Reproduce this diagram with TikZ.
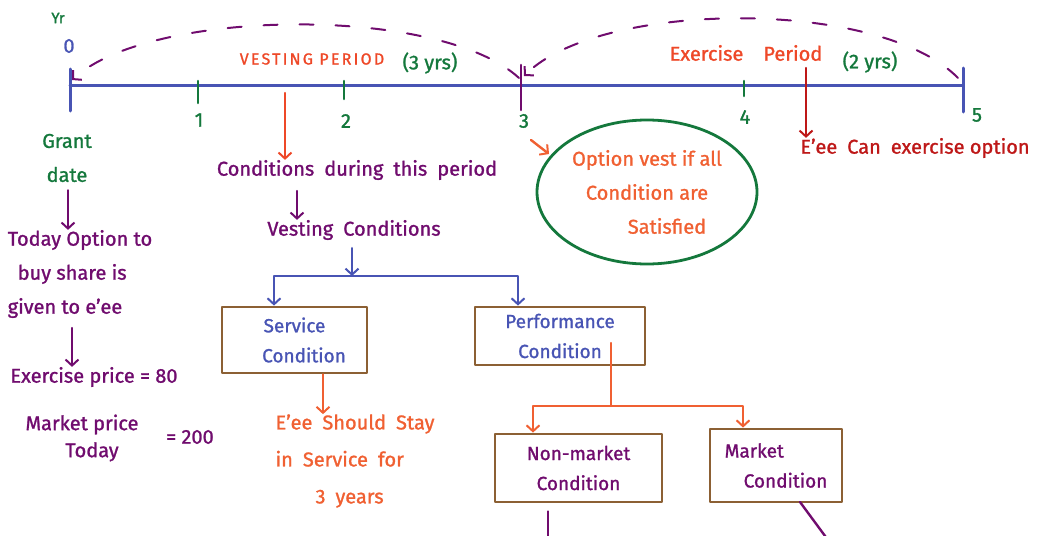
\documentclass[tikz,border=0pt]{standalone}
\usepackage{fontspec}
\setmainfont{Fira Sans}[FakeBold=1.2]
\usetikzlibrary{arrows.meta,shapes.geometric}
\definecolor{axisblue}{RGB}{72,84,180}
\definecolor{tickgreen}{RGB}{20,120,60}
\definecolor{inkpurple}{RGB}{112,12,110}
\definecolor{inkred}{RGB}{238,72,40}
\definecolor{inkorange}{RGB}{240,96,50}
\definecolor{darkred}{RGB}{190,24,24}
\definecolor{boxbrown}{RGB}{140,96,52}
\begin{document}
\begin{tikzpicture}[x=1pt,y=-1pt,line cap=round,line join=round,
  hand/.style={font=\fontsize{20}{34}\selectfont,inner sep=0pt,align=center},
  small/.style={font=\fontsize{15}{18}\selectfont,inner sep=0pt},
  cbox/.style={draw=boxbrown,line width=2.8pt,inner sep=0pt,align=center,
    font=\fontsize{19}{30}\selectfont},
  barb/.style={-{Straight Barb[length=6pt,width=13pt,line width=2pt]}},
  ink/.style={line width=2.4pt},
  arc/.style={draw=inkpurple,line width=2pt,dash pattern=on 14pt off 22pt}]
\useasboundingbox (0,0) rectangle (1051,535);

% ---- time line -------------------------------------------------------
\coordinate (t0) at (70,85);
\coordinate (t5) at (963,85);
\draw[axisblue,line width=3pt] (t0) -- (t5);
\draw[axisblue,line width=3pt] (70,69) -- (70,111);
\draw[axisblue,line width=3pt] (963,68) -- (963,112);
\draw[tickgreen,line width=2.6pt] (198,81) -- (198,103);
\draw[tickgreen,line width=2.6pt] (344,81) -- (344,99);
\draw[tickgreen,line width=2.6pt] (744,81) -- (744,96);
\draw[inkpurple,line width=2.6pt] (521,65) -- (521,110);

\node[small,text=tickgreen] (yr) at (58,18) {Yr};
\node[hand,text=axisblue] (n0) at (69,46) {0};
\node[hand,text=tickgreen] (n1) at (199,120) {1};
\node[hand,text=tickgreen] (n2) at (346,121) {2};
\node[hand,text=tickgreen] (n3) at (524,121) {3};
\node[hand,text=tickgreen] (n4) at (745,117) {4};
\node[hand,text=tickgreen] (n5) at (977,115) {5};

% ---- period spans ----------------------------------------------------
\draw[arc,barb] (519,78) .. controls (440,5) and (150,8) .. (72,80);
\draw[arc,barb] (958,78) .. controls (880,-2) and (600,0) .. (524,76);

\node[small,text=inkred,font=\fontsize{16}{18}\selectfont\addfontfeature{LetterSpace=14}]
  (vest) at (312,59) {VESTING PERIOD};
\node[hand,text=tickgreen] (vyrs) at (430,63) {(3 yrs)};
\node[hand,text=inkred] (expd) at (746,53) {Exercise\quad Period};
\node[hand,text=tickgreen] (eyrs) at (870,62) {(2 yrs)};

% ---- left column -----------------------------------------------------
\node[hand,text=tickgreen] (grant) at (67,158) {Grant\\date};
\node[hand,text=inkpurple,align=left] (today) at (80,274)
  {Today Option to\\\enspace buy share is\\given to e'ee};
\node[hand,text=inkpurple] (expr) at (94,377) {Exercise price = 80};
\node[hand,text=inkpurple,font=\fontsize{20}{27}\selectfont] (mkt) at (82,438)
  {Market price\\\quad Today};
\node[hand,text=inkpurple] (eq200) at (190,437) {= 200};
\draw[inkpurple,ink,barb] (grant.south -| 68,0) ++(0,8) -- (today.north -| 68,0);
\draw[inkpurple,ink,barb] (72,328) -- (expr.north -| 72,0);

% ---- vesting conditions ----------------------------------------------
\coordinate (vp) at (285,93);
\node[hand,text=inkpurple] (cdp) at (357,170) {Conditions\enspace during\enspace this\enspace period};
\node[hand,text=inkpurple] (vc) at (354,230) {Vesting\enspace Conditions};
\draw[inkred,ink,barb] (vp) -- (cdp.north -| vp);
\draw[inkpurple,ink,barb] (297,191) -- (vc.north -| 297,0);

\node[cbox,text=axisblue,minimum width=145pt,minimum height=66pt] (svc) at (294.5,340)
  {Service\\\quad Condition};
\node[cbox,text=axisblue,minimum width=170pt,minimum height=58pt] (perf) at (560,336)
  {Performance\\Condition};
\coordinate (split) at (352,276);
\draw[axisblue,ink,barb] (vc.south -| split) ++(0,8) -- (split);
\draw[axisblue,ink,barb] (split) -| (svc.north -| 274,0);
\draw[axisblue,ink,barb] (split) -| (perf.north -| 518,0);

\node[hand,text=inkorange,align=left,font=\fontsize{20}{37}\selectfont] (stay) at (355,461)
  {E'ee\enspace Should\enspace Stay\\in\enspace Service\enspace for\\\qquad 3\enspace years};
\draw[inkorange,ink,barb] (svc.south -| 323,0) -- (stay.north -| 323,0);

% ---- performance conditions ------------------------------------------
\node[cbox,text=inkpurple,minimum width=167pt,minimum height=68pt] (nonm) at (578.5,468)
  {Non-market\\Condition};
\node[cbox,text=inkpurple,minimum width=132pt,minimum height=73pt,align=left] (mcond) at (776,465.5)
  {Market\\\quad Condition};
\coordinate (psplit) at (611,406);
\draw[inkorange,ink] (611,343) -- (psplit);
\draw[inkorange,ink,barb] (psplit) -| (nonm.north -| 533,0);
\draw[inkorange,ink,barb] (psplit) -| (mcond.north -| 743,0);
\coordinate (nmend) at (548,540);
\coordinate (mend) at (828,540);
\draw[inkpurple,ink] (nonm.south -| 548,0) ++(0,8) -- (nmend);
\draw[inkpurple,ink] (800,502) -- (mend);

% ---- vesting date and exercise ---------------------------------------
\node[draw=tickgreen,line width=2.8pt,ellipse,minimum width=220pt,minimum height=144pt] (vestnode) at (647,192) {};
\node[hand,text=inkorange,font=\fontsize{20}{34}\selectfont] at (vestnode)
  {Option vest if all\\Condition are\\\qquad Satisfied};
\draw[inkorange,ink,barb] (531,140) -- (549,154);

\coordinate (ep) at (806,68);
\node[hand,text=darkred] (exer) at (915,148) {E'ee\enspace Can\enspace exercise option};
\draw[darkred,ink,barb] (ep) -- (exer.north -| ep);
\end{tikzpicture}
\end{document}
